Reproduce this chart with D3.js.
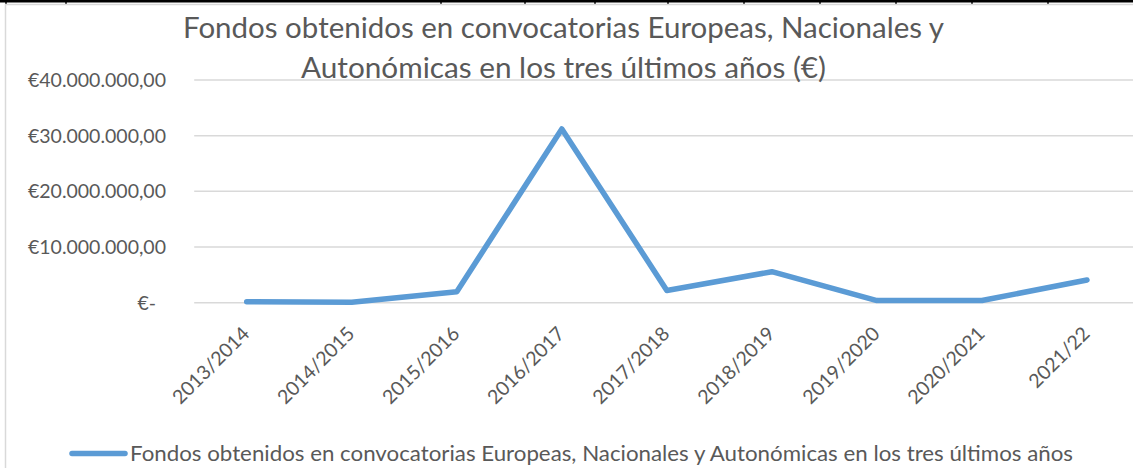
<!DOCTYPE html>
<html>
<head>
<meta charset="utf-8">
<script src="https://cdn.jsdelivr.net/npm/d3@7"></script>
<style>
  body { margin: 0; background: #fff; }
  svg { display: block; font-family: Lato, "Open Sans", sans-serif; }
</style>
</head>
<body>
<div class="chart"></div>
<script>
// datos
const cursos = ["2013/2014", "2014/2015", "2015/2016", "2016/2017", "2017/2018",
                "2018/2019", "2019/2020", "2020/2021", "2021/22"];
const fondos = [180000, 70000, 1980000, 31200000, 2200000, 5570000, 380000, 400000, 4080000];
const yTicks = [0, 10000000, 20000000, 30000000, 40000000];
const yTickLabels = ["€-", "€10.000.000,00", "€20.000.000,00", "€30.000.000,00", "€40.000.000,00"];
const tituloLineas = ["Fondos obtenidos en convocatorias Europeas, Nacionales y",
                      "Autonómicas en los tres últimos años (€)"];
const serieNombre = "Fondos obtenidos en convocatorias Europeas, Nacionales y Autonómicas en los tres últimos años";

// bordes de celdas de la hoja de calculo (arriba)
const sheetCols = [6, 66, 441, 525, 595, 668, 744, 820, 896, 972, 1048];

const width = 1133;
const height = 468;
const azul = "#5B9BD5";
const gris = "#595959";

const svg = d3.select("div.chart")
    .append("svg")
    .attr("width", width)
    .attr("height", height);

// fondo de la hoja
svg.append("line")
    .attr("x1", 0).attr("x2", width)
    .attr("y1", 1.2).attr("y2", 1.2)
    .attr("stroke", "#000").attr("stroke-width", 2.4);
svg.selectAll("line.col")
    .data(sheetCols)
    .enter()
    .append("line")
    .attr("class", "col")
    .attr("x1", d => d).attr("x2", d => d)
    .attr("y1", 0).attr("y2", 4)
    .attr("stroke", "#000").attr("stroke-width", 1.5);

// borde del grafico
svg.append("path")
    .attr("d", `M5.5,${height} V4.5 H${width}`)
    .attr("fill", "none")
    .attr("stroke", "#D9D9D9")
    .attr("stroke-width", 1.5);

const x = d3.scaleBand().domain(cursos).range([194.2, 1139.5]);
const y = d3.scaleLinear().domain([0, 40000000]).range([302.7, 80]);
const cx = d => x(d) + x.bandwidth() / 2;

// lineas de cuadricula
svg.append("g")
    .selectAll("line")
    .data(yTicks)
    .enter()
    .append("line")
    .attr("x1", x.range()[0])
    .attr("x2", x.range()[1])
    .attr("y1", d => y(d))
    .attr("y2", d => y(d))
    .attr("stroke", "#D9D9D9")
    .attr("stroke-width", 1.5);

// etiquetas eje y
svg.append("g")
    .selectAll("text")
    .data(yTicks)
    .enter()
    .append("text")
    .attr("x", 166)
    .attr("y", d => y(d))
    .attr("dx", d => d === 0 ? -10 : 0)
    .attr("dy", "0.36em")
    .attr("text-anchor", "end")
    .attr("fill", gris)
    .style("font-size", "19.5px")
    .text((d, i) => yTickLabels[i]);

// etiquetas eje x
svg.append("g")
    .selectAll("text")
    .data(cursos)
    .enter()
    .append("text")
    .attr("transform", d => `translate(${cx(d) + 4},${335}) rotate(-45)`)
    .attr("text-anchor", "end")
    .attr("fill", gris)
    .style("font-size", "19.5px")
    .text(d => d);

// serie
const line = d3.line()
    .x((d, i) => cx(cursos[i]))
    .y(d => y(d));

svg.append("path")
    .datum(fondos)
    .attr("d", line)
    .attr("fill", "none")
    .attr("stroke", azul)
    .attr("stroke-width", 5.5)
    .attr("stroke-linejoin", "round")
    .attr("stroke-linecap", "round");

// titulo
svg.append("g")
    .selectAll("text")
    .data(tituloLineas)
    .enter()
    .append("text")
    .attr("x", 563.5)
    .attr("y", (d, i) => 38 + i * 40)
    .attr("text-anchor", "middle")
    .attr("fill", gris)
    .style("font-size", "29px")
    .attr("textLength", (d, i) => i === 0 ? 761 : 525)
    .attr("lengthAdjust", "spacingAndGlyphs")
    .text(d => d);

// leyenda
svg.append("line")
    .attr("x1", 72).attr("x2", 125)
    .attr("y1", 453.5).attr("y2", 453.5)
    .attr("stroke", azul)
    .attr("stroke-width", 5.5)
    .attr("stroke-linecap", "round");

svg.append("text")
    .attr("x", 130)
    .attr("y", 461)
    .attr("fill", gris)
    .style("font-size", "21px")
    .attr("textLength", 943)
    .attr("lengthAdjust", "spacingAndGlyphs")
    .text(serieNombre);
</script>
</body>
</html>
